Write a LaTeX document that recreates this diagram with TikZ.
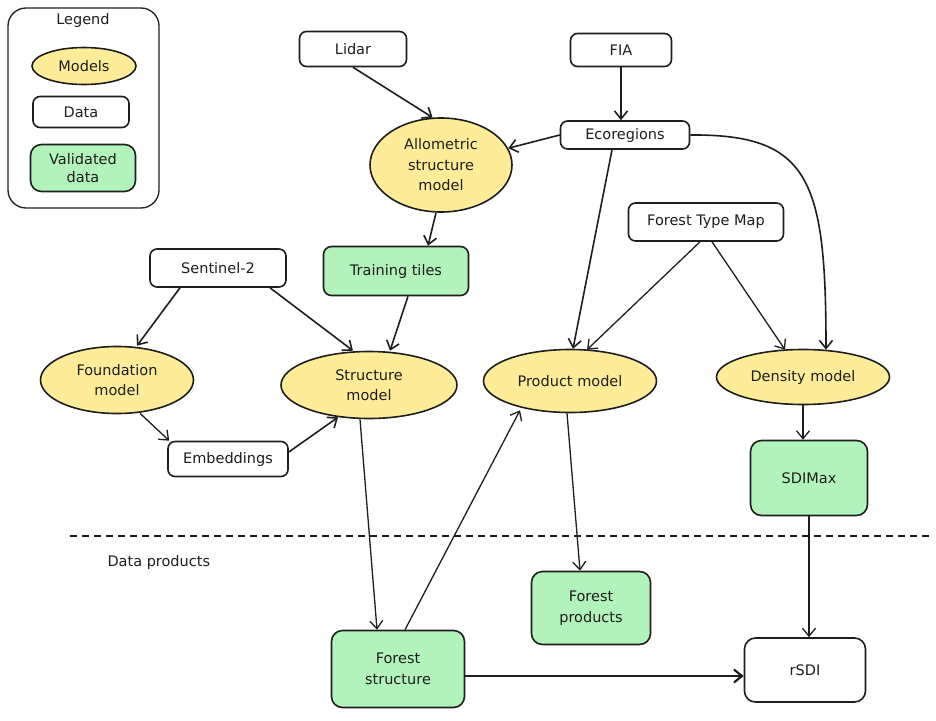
\documentclass[tikz,border=0pt]{standalone}
\usepackage{fontspec}
\setmainfont{DejaVu Sans}
\usetikzlibrary{shapes.geometric,arrows.meta,calc}
\definecolor{ink}{HTML}{1E1E1E}
\definecolor{modelfill}{HTML}{FFEC99}
\definecolor{validfill}{HTML}{B2F2BB}
\tikzset{
  txt/.style={font=\fontsize{14.5}{20.5}\selectfont, text=ink, align=center},
  databox/.style={txt, draw=ink, line width=1.6pt, rounded corners=7pt, fill=white, inner sep=0pt},
  validbox/.style={databox, fill=validfill, rounded corners=11pt},
  model/.style={txt, ellipse, draw=ink, line width=1.6pt, fill=modelfill, inner sep=0pt},
  arr/.style={-{Straight Barb[length=8pt,width=13pt]}, line width=1.6pt, draw=ink},
  thinarr/.style={arr, line width=1.3pt},
}
\begin{document}
\begin{tikzpicture}[x=1pt,y=-1pt]
\useasboundingbox (0,0) rectangle (936,720);

% legend
\node[draw=ink, line width=1.3pt, rounded corners=18pt, minimum width=151pt, minimum height=200pt, inner sep=0pt] (legend) at (83.5,108) {};
\node[txt] (legendtitle) at (83,20) {Legend};
\node[model, minimum width=104pt, minimum height=37pt] (lmodel) at (84,66) {Models};
\node[databox, minimum width=96pt, minimum height=31pt] (ldata) at (81,112) {Data};
\node[validbox, minimum width=105pt, minimum height=47pt] (lvalid) at (83,168) {Validated\\[-2pt]data};

% data nodes
\node[databox, minimum width=107pt, minimum height=35pt] (lidar) at (353,49) {Lidar};
\node[databox, minimum width=101pt, minimum height=33pt] (fia) at (621,50) {FIA};
\node[databox, minimum width=129pt, minimum height=28pt] (eco) at (625,135) {Ecoregions};
\node[databox, minimum width=155pt, minimum height=38pt] (ftm) at (706,222) {Forest Type Map};
\node[databox, minimum width=136pt, minimum height=38pt] (sent) at (218,268) {Sentinel-2};
\node[databox, minimum width=120pt, minimum height=35pt] (emb) at (228,459) {Embeddings};

% models
\node[model, minimum width=142pt, minimum height=94pt] (allo) at (441,165) {Allometric\\structure\\model};
\node[model, minimum width=153pt, minimum height=67pt] (found) at (117,380) {Foundation\\model};
\node[model, minimum width=176pt, minimum height=67pt] (struct) at (369,385) {Structure\\model};
\node[model, minimum width=173pt, minimum height=63pt] (prod) at (570,381) {Product model};
\node[model, minimum width=173pt, minimum height=55pt] (dens) at (803,377) {Density model};

% validated data
\node[validbox, minimum width=145pt, minimum height=49pt, rounded corners=8pt] (train) at (396,271) {Training tiles};
\node[validbox, minimum width=117pt, minimum height=75pt] (sdi) at (809,478) {SDIMax};
\node[validbox, minimum width=119pt, minimum height=73pt] (fprod) at (591,608) {Forest\\products};
\node[validbox, minimum width=133pt, minimum height=77pt] (fstruct) at (398,669) {Forest\\structure};
\node[databox, minimum width=121pt, minimum height=64pt, rounded corners=11pt] (rsdi) at (805,670) {rSDI};

% divider
\draw[ink, line width=1.5pt, dash pattern=on 7pt off 5pt] (70,536) -- (930,536);
\node[txt, anchor=west] (dplabel) at (104,562) {Data products};

% connectors
\draw[arr] (lidar.south) -- (allo.100);
\draw[arr] (fia.south) -- (fia.south |- eco.north);
\draw[arr] (eco.west) -- (allo.14);
\draw[arr] ($(eco.south)+(-13,0)$) -- ($(prod.north)+(3,0)$);
\draw[arr] (eco.east) .. controls (810,134) and (826,180) .. ($(dens.north)+(23,1)$);
\draw[thinarr] ($(ftm.south)+(-6,0)$) -- ($(prod.north)+(17,1)$);
\draw[thinarr] ($(ftm.south)+(6,0)$) -- ($(dens.north)+(-18,1)$);
\draw[arr] ($(allo.south)+(-5,0)$) -- ($(train.north)+(32,0)$);
\draw[arr] ($(sent.south)+(-38,0)$) -- ($(found.north)+(20,0)$);
\draw[arr] ($(sent.south)+(52,0)$) -- ($(struct.north)+(-16,0)$);
\draw[arr] ($(train.south)+(12,0)$) -- ($(struct.north)+(21,0)$);
\draw[thinarr] ($(found.south)+(23,-1)$) -- ($(emb.north west)+(2,0)$);
\draw[arr] ($(emb.east)+(0,-7)$) -- ($(struct.south)+(-31,-2)$);
\draw[thinarr] ($(struct.south)+(-9,0)$) -- ($(fstruct.north)+(-21,0)$);
\draw[thinarr] ($(fstruct.north)+(7,0)$) -- ($(prod.south)+(-50,-3)$);
\draw[thinarr] ($(prod.south)+(-3,0)$) -- ($(fprod.north)+(-11,0)$);
\draw[thinarr] (dens.south) -- (dens.south |- sdi.north);
\draw[thinarr] (sdi.south) -- (sdi.south |- rsdi.north);
\draw[arr, line width=2.2pt] ($(fstruct.east)+(0,7)$) -- ($(rsdi.west)+(0,6)$);
\end{tikzpicture}
\end{document}
